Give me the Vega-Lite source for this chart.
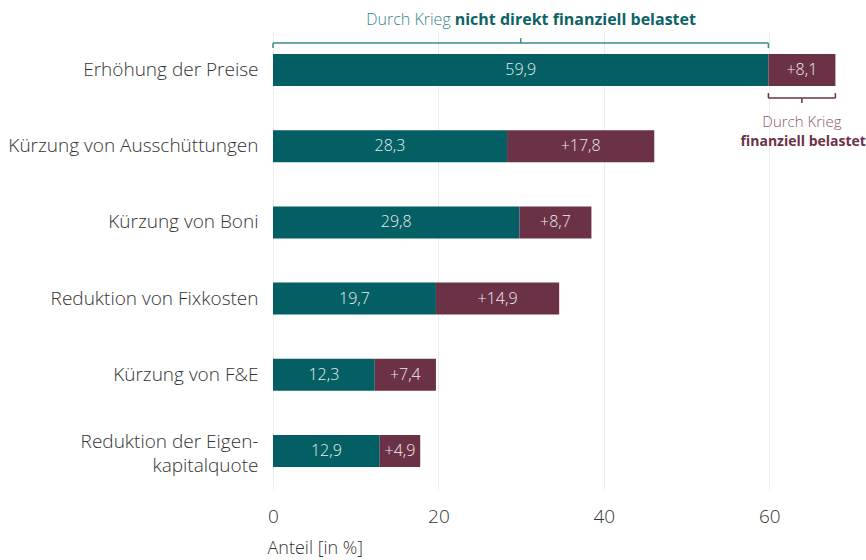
{
  "$schema": "https://vega.github.io/schema/vega-lite/v6.json",
  "width": 593,
  "height": 457,
  "autosize": {"type": "none"},
  "padding": {"left": 273, "top": 32, "right": 0, "bottom": 71},
  "config": {"font": "Open Sans", "view": {"stroke": null}},
  "data": {
    "values": [
      {"kategorie": "Erhöhung der Preise", "gruppe": "nicht belastet", "ord": 0, "wert": 59.9},
      {"kategorie": "Erhöhung der Preise", "gruppe": "belastet", "ord": 1, "wert": 8.1},
      {"kategorie": "Kürzung von Ausschüttungen", "gruppe": "nicht belastet", "ord": 0, "wert": 28.3},
      {"kategorie": "Kürzung von Ausschüttungen", "gruppe": "belastet", "ord": 1, "wert": 17.8},
      {"kategorie": "Kürzung von Boni", "gruppe": "nicht belastet", "ord": 0, "wert": 29.8},
      {"kategorie": "Kürzung von Boni", "gruppe": "belastet", "ord": 1, "wert": 8.7},
      {"kategorie": "Reduktion von Fixkosten", "gruppe": "nicht belastet", "ord": 0, "wert": 19.7},
      {"kategorie": "Reduktion von Fixkosten", "gruppe": "belastet", "ord": 1, "wert": 14.9},
      {"kategorie": "Kürzung von F&E", "gruppe": "nicht belastet", "ord": 0, "wert": 12.3},
      {"kategorie": "Kürzung von F&E", "gruppe": "belastet", "ord": 1, "wert": 7.4},
      {"kategorie": "Reduktion der Eigenkapitalquote", "gruppe": "nicht belastet", "ord": 0, "wert": 12.9},
      {"kategorie": "Reduktion der Eigenkapitalquote", "gruppe": "belastet", "ord": 1, "wert": 4.9}
    ]
  },
  "transform": [
    {"stack": "wert", "groupby": ["kategorie"], "sort": [{"field": "ord"}], "as": ["x0", "x1"]},
    {"calculate": "(datum.x0 + datum.x1) / 2", "as": "mid"}
  ],
  "encoding": {
    "y": {
      "field": "kategorie",
      "type": "nominal",
      "sort": null,
      "scale": {"paddingInner": 0.58, "paddingOuter": 0.29},
      "axis": {
        "title": null,
        "domain": false,
        "ticks": false,
        "labelFontSize": 19,
        "labelColor": "#333333",
        "labelFontWeight": 300,
        "labelPadding": 15,
        "labelLimit": 300,
        "labelLineHeight": 24,
        "labelOffset": {"condition": {"test": "datum.value == 'Reduktion der Eigenkapitalquote'", "value": -9}, "value": 0},
        "labelExpr": "datum.value == 'Reduktion der Eigenkapitalquote' ? ['Reduktion der Eigen-', 'kapitalquote'] : datum.label"
      }
    }
  },
  "layer": [
    {
      "mark": {"type": "bar"},
      "encoding": {
        "x": {
          "field": "x0",
          "type": "quantitative",
          "scale": {"domain": [0, 71.7], "nice": false},
          "axis": {
            "values": [0, 20, 40, 60],
            "grid": true,
            "gridColor": "#ececec",
            "domain": false,
            "ticks": false,
            "labelFlush": false,
            "labelFontSize": 19,
            "labelColor": "#333333",
            "labelFontWeight": 300,
            "labelPadding": 18,
            "title": "Anteil [in %]",
            "titleFontSize": 18,
            "titleFontWeight": 300,
            "titleColor": "#333333",
            "titleAnchor": "start",
            "titleAlign": "left",
            "titleX": -6,
            "titlePadding": 13
          }
        },
        "x2": {"field": "x1"},
        "color": {
          "field": "gruppe",
          "type": "nominal",
          "scale": {"domain": ["nicht belastet", "belastet"], "range": ["#035f63", "#6b3247"]},
          "legend": null
        }
      }
    },
    {
      "transform": [{"calculate": "(datum.ord == 1 ? '+' : '') + replace(format(datum.wert, '.1f'), '.', ',')", "as": "lab"}],
      "mark": {"type": "text", "fontSize": 16, "fontWeight": 300, "color": "#ececec"},
      "encoding": {
        "x": {"field": "mid", "type": "quantitative"},
        "text": {"field": "lab"}
      }
    },
    {
      "transform": [{"filter": "datum.kategorie == 'Erhöhung der Preise' && datum.ord == 0"}],
      "layer": [
        {"mark": {"type": "rule", "color": "#3d8a8c", "strokeWidth": 1.5, "yOffset": -27}, "encoding": {"x": {"field": "x0", "type": "quantitative"}, "x2": {"field": "x1"}}},
        {"mark": {"type": "rule", "color": "#3d8a8c", "strokeWidth": 1.5, "yOffset": -27, "y2Offset": -22}, "encoding": {"x": {"field": "x0", "type": "quantitative"}, "y2": {"field": "kategorie"}}},
        {"mark": {"type": "rule", "color": "#3d8a8c", "strokeWidth": 1.5, "yOffset": -27, "y2Offset": -22}, "encoding": {"x": {"field": "x1", "type": "quantitative"}, "y2": {"field": "kategorie"}}},
        {"mark": {"type": "rule", "color": "#3d8a8c", "strokeWidth": 1.5, "yOffset": -27, "y2Offset": -32}, "encoding": {"x": {"field": "mid", "type": "quantitative"}, "y2": {"field": "kategorie"}}},
        {"mark": {"type": "text", "text": "Durch Krieg", "align": "right", "dx": -70, "yOffset": -50, "fontSize": 16, "fontWeight": 300, "color": "#3a8588"}, "encoding": {"x": {"field": "mid", "type": "quantitative"}}},
        {"mark": {"type": "text", "text": "nicht direkt finanziell belastet", "align": "left", "dx": -66, "yOffset": -50, "fontSize": 16, "fontWeight": "bold", "color": "#0d6366"}, "encoding": {"x": {"field": "mid", "type": "quantitative"}}}
      ]
    },
    {
      "transform": [{"filter": "datum.kategorie == 'Erhöhung der Preise' && datum.ord == 1"}],
      "layer": [
        {"mark": {"type": "rule", "color": "#6b3247", "strokeWidth": 1.5, "yOffset": 28}, "encoding": {"x": {"field": "x0", "type": "quantitative"}, "x2": {"field": "x1"}}},
        {"mark": {"type": "rule", "color": "#6b3247", "strokeWidth": 1.5, "yOffset": 28, "y2Offset": 23}, "encoding": {"x": {"field": "x0", "type": "quantitative"}, "y2": {"field": "kategorie"}}},
        {"mark": {"type": "rule", "color": "#6b3247", "strokeWidth": 1.5, "yOffset": 28, "y2Offset": 23}, "encoding": {"x": {"field": "x1", "type": "quantitative"}, "y2": {"field": "kategorie"}}},
        {"mark": {"type": "rule", "color": "#6b3247", "strokeWidth": 1.5, "yOffset": 28, "y2Offset": 33}, "encoding": {"x": {"field": "mid", "type": "quantitative"}, "y2": {"field": "kategorie"}}},
        {"mark": {"type": "text", "text": "Durch Krieg", "align": "center", "yOffset": 52, "fontSize": 15, "fontWeight": 300, "color": "#8a5a6c"}, "encoding": {"x": {"field": "mid", "type": "quantitative"}}},
        {"mark": {"type": "text", "text": "finanziell belastet", "align": "right", "dx": 64, "yOffset": 72, "fontSize": 14, "fontWeight": "bold", "color": "#6b3247"}, "encoding": {"x": {"field": "mid", "type": "quantitative"}}}
      ]
    }
  ]
}
